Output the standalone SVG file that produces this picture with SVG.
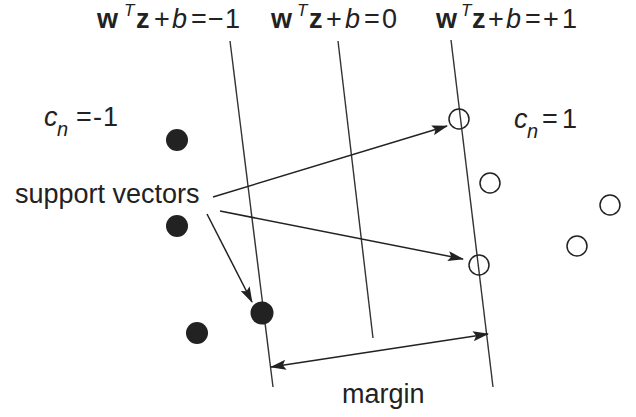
<svg xmlns="http://www.w3.org/2000/svg" width="636" height="417" viewBox="0 0 636 417">
<style>
text{font-family:"Liberation Sans",Arial,sans-serif;fill:#222;}
.eq{font-size:27px;}
.bd{font-weight:bold;}
.it{font-style:italic;}
.sup{font-size:17px;font-style:italic;}
.lbl{font-size:27px;}
.line{stroke:#333;stroke-width:1.4;fill:none;}
.conn{stroke:#222;stroke-width:1.5;fill:none;}
.dot{fill:#222;}
.ring{fill:none;stroke:#222;stroke-width:1.5;}
</style>
<defs>
<marker id="ah" markerWidth="16" markerHeight="10" refX="15" refY="5" orient="auto-start-reverse" markerUnits="userSpaceOnUse">
<path d="M0,0 L16,5 L0,10 L3,5 Z" fill="#222"/>
</marker>
</defs>
<g id="labels">
<text class="eq" y="28"><tspan class="bd" x="97">w</tspan><tspan class="sup" x="124" y="16">T</tspan><tspan class="bd" x="136" y="28">z</tspan><tspan x="154">+</tspan><tspan class="it" x="172">b</tspan><tspan x="191">=</tspan><tspan x="208">−</tspan><tspan x="225">1</tspan></text>
<text class="eq" y="28"><tspan class="bd" x="271">w</tspan><tspan class="sup" x="297" y="16">T</tspan><tspan class="bd" x="309" y="28">z</tspan><tspan x="326">+</tspan><tspan class="it" x="345">b</tspan><tspan x="364">=</tspan><tspan x="382">0</tspan></text>
<text class="eq" y="28"><tspan class="bd" x="436">w</tspan><tspan class="sup" x="461" y="16">T</tspan><tspan class="bd" x="472" y="28">z</tspan><tspan x="488">+</tspan><tspan class="it" x="506">b</tspan><tspan x="525">=</tspan><tspan x="543">+</tspan><tspan x="562">1</tspan></text>
<text class="lbl" y="126"><tspan class="it" x="44">c</tspan><tspan class="it" x="57" y="136" font-size="20">n</tspan><tspan x="76" y="126">=</tspan><tspan x="93">-</tspan><tspan x="103">1</tspan></text>
<text class="lbl" y="128"><tspan class="it" x="514">c</tspan><tspan class="it" x="527" y="138" font-size="20">n</tspan><tspan x="542" y="128">=</tspan><tspan x="562">1</tspan></text>
<text id="sv" class="lbl" x="15" y="203">support vectors</text>
<text id="margin" class="lbl" x="342" y="403">margin</text>
</g>
<g id="hyperplanes">
<line class="line" x1="230" y1="41" x2="273" y2="387"/>
<line class="line" x1="338" y1="41" x2="373" y2="338"/>
<line class="line" x1="451" y1="40" x2="493" y2="387"/>
</g>
<g id="class-neg">
<circle id="n1" class="dot" cx="177" cy="140" r="11"/>
<circle id="n2" class="dot" cx="177" cy="226" r="11"/>
<circle id="n3" class="dot" cx="262" cy="313" r="11.5"/>
<circle id="n4" class="dot" cx="197" cy="333" r="11"/>
</g>
<g id="class-pos">
<circle id="p1" class="ring" cx="459" cy="119" r="10"/>
<circle id="p2" class="ring" cx="490" cy="183" r="10"/>
<circle id="p3" class="ring" cx="610" cy="205" r="10"/>
<circle id="p4" class="ring" cx="577" cy="246" r="10"/>
<circle id="p5" class="ring" cx="479" cy="265" r="10"/>
</g>
<g id="connectors">
<line class="conn" x1="213" y1="197" x2="447" y2="126" marker-end="url(#ah)"/>
<line class="conn" x1="220" y1="211" x2="463" y2="259" marker-end="url(#ah)"/>
<line class="conn" x1="207" y1="214" x2="252" y2="302" marker-end="url(#ah)"/>
<line class="conn" x1="271" y1="367" x2="488" y2="334" marker-start="url(#ah)" marker-end="url(#ah)"/>
</g>
</svg>
